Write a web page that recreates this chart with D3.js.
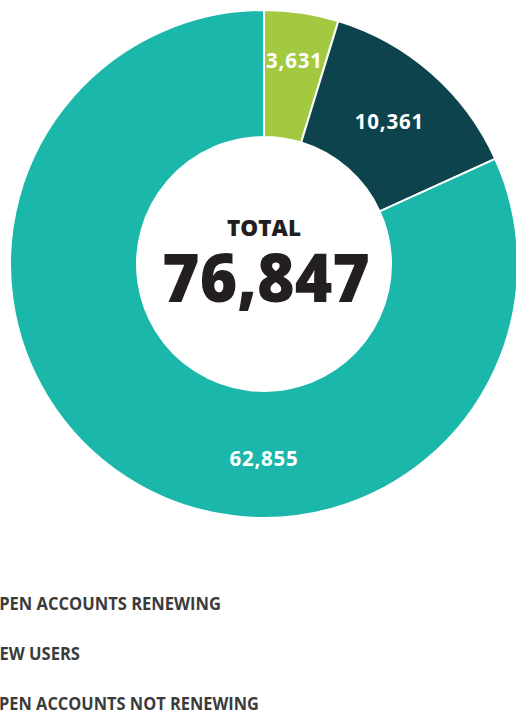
<!DOCTYPE html>
<html>
<head>
<meta charset="utf-8">
<script src="https://cdn.jsdelivr.net/npm/d3@7"></script>
<style>
  html, body { margin: 0; padding: 0; background: #fff; }
  svg { display: block; }
</style>
</head>
<body>
<svg id="chart" width="516" height="721"></svg>
<script>
// Account categories and their counts
const categories = ["OPEN ACCOUNTS RENEWING", "NEW USERS", "OPEN ACCOUNTS NOT RENEWING"];
const values = [3631, 10361, 62855];
const colors = ["#a3c940", "#0c434d", "#1bb7aa"];
const totalLabel = "TOTAL";

const svg = d3.select("#chart");
const cx = 264, cy = 264;
const outerR = 254, innerR = 127;

const total = d3.sum(values);
const data = categories.map((c, i) => ({ name: c, value: values[i], color: colors[i] }));

const pie = d3.pie().value(d => d.value).sort(null);
const arcs = pie(data);
const arc = d3.arc().innerRadius(innerR).outerRadius(outerR);

const g = svg.append("g").attr("transform", `translate(${cx},${cy})`);

g.selectAll("path.slice")
  .data(arcs)
  .join("path")
  .attr("class", "slice")
  .attr("d", arc)
  .attr("fill", d => d.data.color)
  .attr("stroke", "#fff")
  .attr("stroke-width", 2);

// Slice value labels; a slice wider than half the ring gets its label at the bottom
const fmt = d3.format(",");
const labelR = [206, 190, 195];
const labelAngle = d => (d.endAngle - d.startAngle) > Math.PI ? Math.PI : (d.startAngle + d.endAngle) / 2;
g.selectAll("text.val")
  .data(arcs)
  .join("text")
  .attr("class", "val")
  .attr("text-anchor", "middle")
  .attr("dy", "0.36em")
  .attr("fill", "#fff")
  .attr("font-family", "'Open Sans', sans-serif")
  .attr("font-weight", 700)
  .attr("font-size", 20.5)
  .attr("letter-spacing", 0.8)
  .attr("x", (d, i) => Math.sin(labelAngle(d)) * labelR[i])
  .attr("y", (d, i) => -Math.cos(labelAngle(d)) * labelR[i])
  .text(d => fmt(d.value));

// Center total
g.append("text")
  .attr("text-anchor", "middle")
  .attr("y", -28)
  .attr("fill", "#231f20")
  .attr("font-family", "'Open Sans', sans-serif")
  .attr("font-weight", 800)
  .attr("font-size", 22.5)
  .text(totalLabel);

g.append("text")
  .attr("text-anchor", "middle")
  .attr("x", 2)
  .attr("y", 38)
  .attr("fill", "#231f20")
  .attr("font-family", "'Open Sans', sans-serif")
  .attr("font-weight", 800)
  .attr("font-size", 68)
  .attr("textLength", 208)
  .attr("lengthAdjust", "spacingAndGlyphs")
  .text(fmt(total));

// Legend (swatches sit left of the visible area)
const legend = svg.append("g").attr("transform", "translate(-42,0)");
const rows = legend.selectAll("g.row")
  .data(data)
  .join("g")
  .attr("class", "row")
  .attr("transform", (d, i) => `translate(0,${610 + i * 50})`);

rows.append("rect")
  .attr("x", 0).attr("y", -15)
  .attr("width", 18).attr("height", 18)
  .attr("fill", d => d.color);

const legendLen = [235, 94, 273];
rows.append("text")
  .attr("x", 28)
  .attr("fill", "#3b3b3b")
  .attr("font-family", "'Open Sans', sans-serif")
  .attr("font-weight", 700)
  .attr("font-size", 17.5)
  .attr("textLength", (d, i) => legendLen[i])
  .attr("lengthAdjust", "spacingAndGlyphs")
  .text(d => d.name);
</script>
</body>
</html>
